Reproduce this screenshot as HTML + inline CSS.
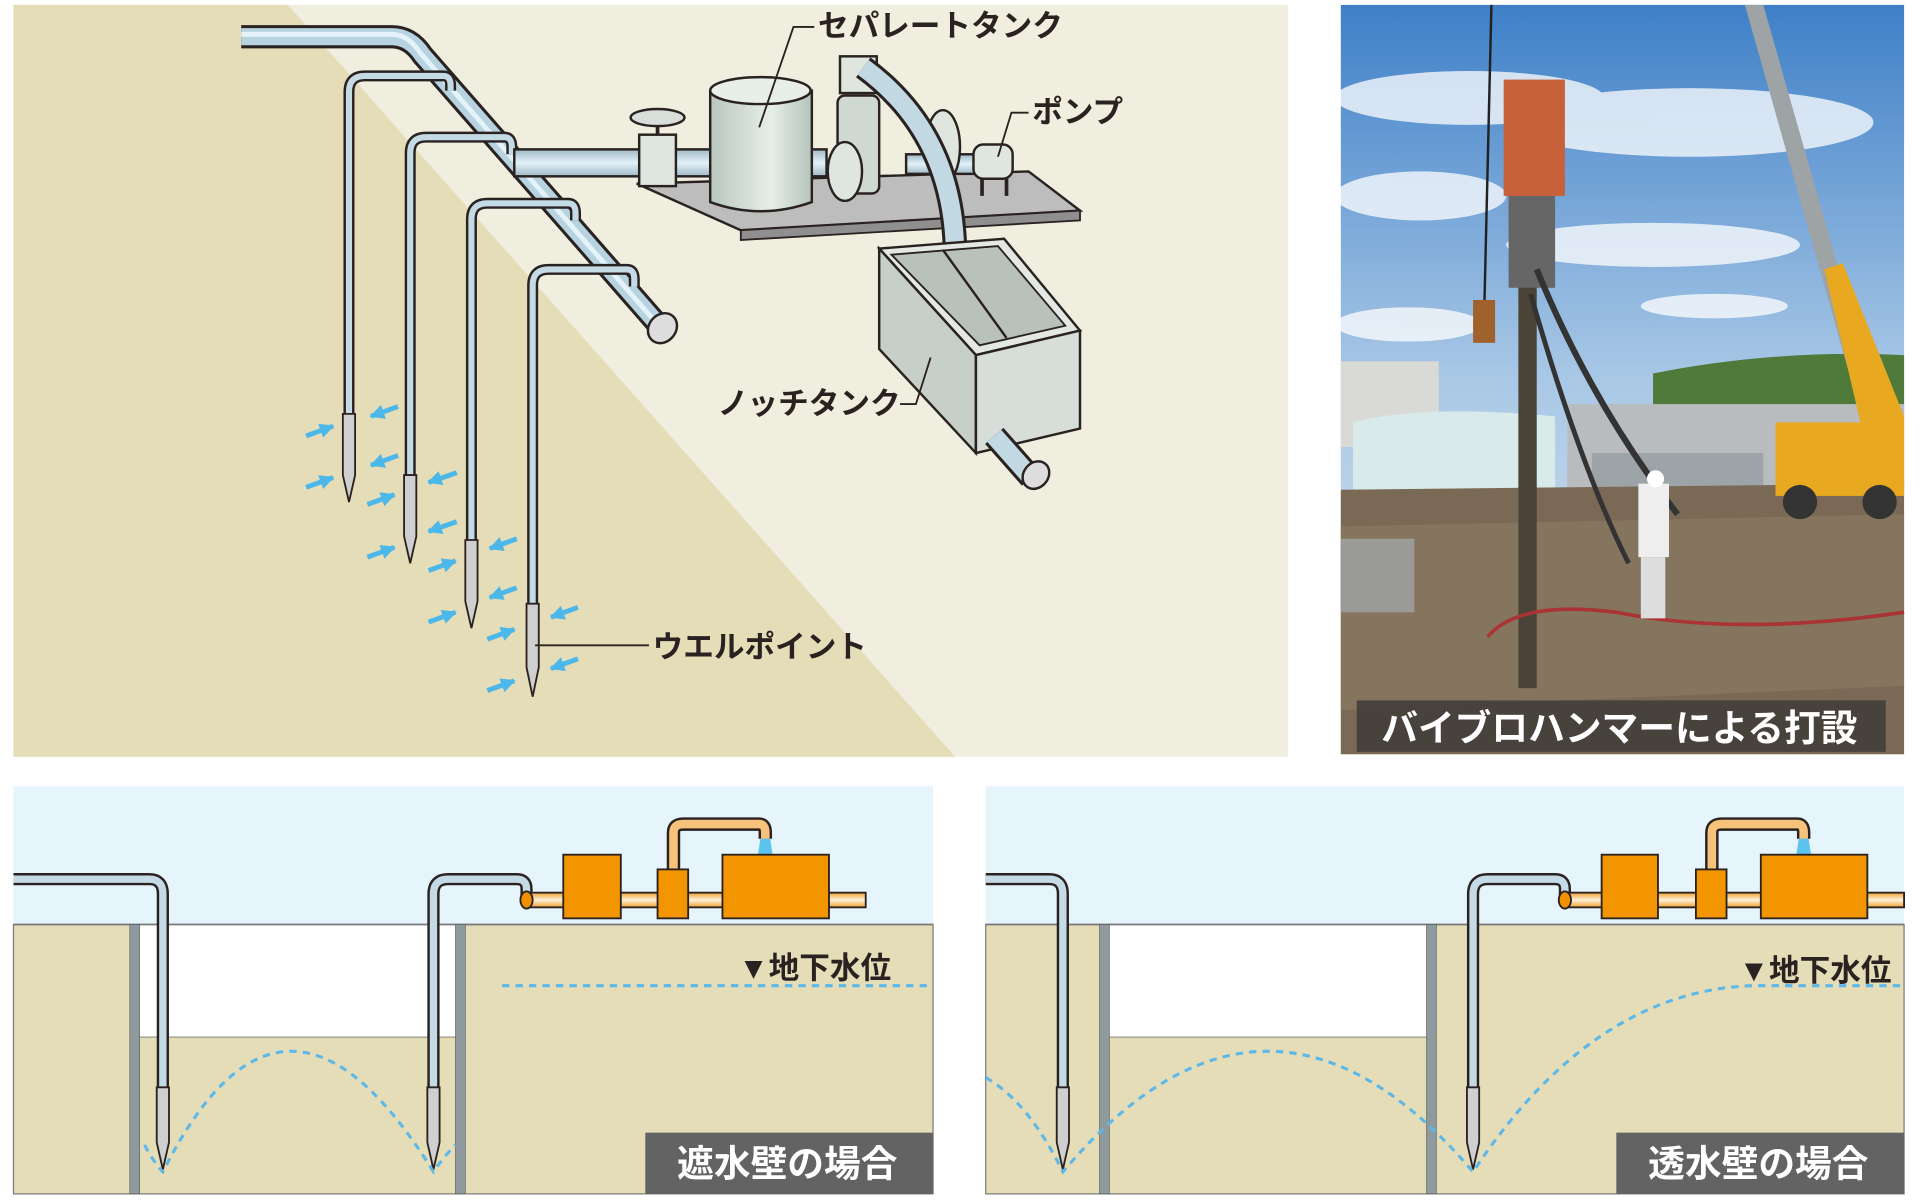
<!DOCTYPE html>
<html><head><meta charset="utf-8"><style>
html,body{margin:0;padding:0;background:#fff;}
svg{display:block;}
text{font-family:"Liberation Sans","Noto Sans CJK JP",sans-serif;}
</style></head><body>
<svg width="1920" height="1200" viewBox="0 0 1568 980" xmlns="http://www.w3.org/2000/svg">
<defs>
<linearGradient id="pv" x1="0" x2="1" y1="0" y2="0"><stop offset="0" stop-color="#9fb9c6"/><stop offset="0.5" stop-color="#e3f1f8"/><stop offset="1" stop-color="#9fb9c6"/></linearGradient>
<linearGradient id="ph" x1="0" x2="0" y1="0" y2="1"><stop offset="0" stop-color="#9fb9c6"/><stop offset="0.5" stop-color="#e3f1f8"/><stop offset="1" stop-color="#9fb9c6"/></linearGradient>
<linearGradient id="oh" x1="0" x2="0" y1="0" y2="1"><stop offset="0" stop-color="#f0a030"/><stop offset="0.5" stop-color="#fff0d8"/><stop offset="1" stop-color="#f0a030"/></linearGradient>
<linearGradient id="cyl" x1="0" x2="1"><stop offset="0" stop-color="#b9c7bf"/><stop offset="0.6" stop-color="#e6eee8"/><stop offset="1" stop-color="#b6c4bc"/></linearGradient>
<linearGradient id="sky" x1="0" x2="0" y1="0" y2="1"><stop offset="0" stop-color="#3f80c8"/><stop offset="0.5" stop-color="#a9c8e6"/><stop offset="1" stop-color="#dfe8ef"/></linearGradient>
<marker id="ar" viewBox="0 0 10 10" refX="9" refY="5" markerWidth="3" markerHeight="3" orient="auto"><path d="M0,0L10,5L0,10z" fill="#4cb8ea"/></marker>
</defs>

<rect x="11" y="4" width="1041" height="614" fill="#f0eedf"/>
<polygon points="11,4 235,4 780,618 11,618" fill="#e5dcb8"/>

<g fill="none" stroke-linecap="butt" stroke-linejoin="round">
<path d="M197,30 L320,30 Q335,30 345,45 L540,268" stroke="#2a2220" stroke-width="19"/>
<path d="M197,30 L320,30 Q335,30 345,45 L540,268" stroke="#b8d3e0" stroke-width="14"/>
<path d="M197,28 L320,28 Q333,28 343,43 L538,266" stroke="#e4f2f9" stroke-width="4"/>
</g>
<ellipse cx="541" cy="268" rx="11" ry="13" transform="rotate(40 541 268)" fill="#ddd" stroke="#2a2220" stroke-width="2"/>

<g fill="none">
<path d="M285,340 L285,75 Q285,62 298,62 L362,62 Q368,62 368,70 L368,74" stroke="#2a2220" stroke-width="9"/>
<path d="M285,340 L285,75 Q285,62 298,62 L362,62 Q368,62 368,70 L368,74" stroke="#c4dbe6" stroke-width="5"/>
<path d="M335,390 L335,125 Q335,112 348,112 L412,112 Q418,112 418,120 L418,126" stroke="#2a2220" stroke-width="9"/>
<path d="M335,390 L335,125 Q335,112 348,112 L412,112 Q418,112 418,120 L418,126" stroke="#c4dbe6" stroke-width="5"/>
<path d="M385,443 L385,179 Q385,166 398,166 L464,166 Q470,166 470,174 L470,180" stroke="#2a2220" stroke-width="9"/>
<path d="M385,443 L385,179 Q385,166 398,166 L464,166 Q470,166 470,174 L470,180" stroke="#c4dbe6" stroke-width="5"/>
<path d="M435,495 L435,233 Q435,220 448,220 L512,220 Q518,220 518,228 L518,234" stroke="#2a2220" stroke-width="9"/>
<path d="M435,495 L435,233 Q435,220 448,220 L512,220 Q518,220 518,228 L518,234" stroke="#c4dbe6" stroke-width="5"/>
</g>
<g fill="#cfcfcf" stroke="#2a2220" stroke-width="1.5">
<path d="M280,338 h10 v50 l-5,22 l-5,-22z"/>
<path d="M330,388 h10 v50 l-5,22 l-5,-22z"/>
<path d="M380,441 h10 v50 l-5,22 l-5,-22z"/>
<path d="M430,493 h10 v52 l-5,24 l-5,-24z"/>
</g>
<g stroke="#4cb8ea" stroke-width="4" marker-end="url(#ar)">
<line x1="250" y1="356" x2="272" y2="348"/><line x1="250" y1="398" x2="272" y2="390"/>
<line x1="325" y1="332" x2="303" y2="340"/><line x1="325" y1="372" x2="303" y2="380"/>
<line x1="300" y1="412" x2="322" y2="404"/><line x1="300" y1="455" x2="322" y2="447"/>
<line x1="373" y1="386" x2="350" y2="394"/><line x1="373" y1="426" x2="350" y2="434"/>
<line x1="350" y1="466" x2="372" y2="458"/><line x1="350" y1="508" x2="372" y2="500"/>
<line x1="422" y1="440" x2="400" y2="448"/><line x1="422" y1="480" x2="400" y2="488"/>
<line x1="398" y1="522" x2="420" y2="514"/><line x1="398" y1="564" x2="420" y2="556"/>
<line x1="472" y1="496" x2="450" y2="504"/><line x1="472" y1="538" x2="450" y2="546"/>
</g>
<line x1="437" y1="527" x2="530" y2="527" stroke="#2a2220" stroke-width="1.5"/>
<text x="533" y="537" font-size="25" font-weight="bold" fill="#2a2220">ウエルポイント</text>

<polygon points="520,150 840,140 882,172 605,188" fill="#bdbdbd" stroke="#2a2220" stroke-width="2"/>
<polygon points="605,188 882,172 882,180 605,196" fill="#8f8f8f" stroke="#2a2220" stroke-width="1.5"/>
<rect x="420" y="122" width="255" height="22" fill="url(#ph)" stroke="#2a2220" stroke-width="2"/>
<rect x="740" y="126" width="60" height="16" fill="url(#ph)" stroke="#2a2220" stroke-width="2"/>
<rect x="522" y="110" width="30" height="42" fill="#dfe6e0" stroke="#2a2220" stroke-width="2"/>
<line x1="537" y1="100" x2="537" y2="110" stroke="#2a2220" stroke-width="3"/>
<ellipse cx="537" cy="96" rx="22" ry="7" fill="#d8dfda" stroke="#2a2220" stroke-width="2"/>
<path d="M580,74 L580,165 Q621,180 663,165 L663,74z" fill="url(#cyl)" stroke="#2a2220" stroke-width="2"/>
<ellipse cx="621" cy="74" rx="41" ry="11" fill="#e8efe9" stroke="#2a2220" stroke-width="2"/>
<rect x="686" y="46" width="30" height="30" fill="#dfe6e0" stroke="#2a2220" stroke-width="2"/>
<rect x="684" y="78" width="34" height="80" rx="6" fill="#cfd9d2" stroke="#2a2220" stroke-width="2"/>
<ellipse cx="690" cy="140" rx="14" ry="24" fill="#dfe6e0" stroke="#2a2220" stroke-width="2"/>
<ellipse cx="770" cy="120" rx="14" ry="30" fill="#dfe6e0" stroke="#2a2220" stroke-width="2"/>
<rect x="795" y="118" width="32" height="28" rx="8" fill="#dfe6e0" stroke="#2a2220" stroke-width="2"/>
<path d="M802,146 v14 M822,146 v14" stroke="#2a2220" stroke-width="3"/>
<path d="M705,55 Q780,110 780,210" fill="none" stroke="#2a2220" stroke-width="20"/>
<path d="M705,55 Q780,110 780,210" fill="none" stroke="#c2d9e4" stroke-width="15"/>
<polygon points="718,203 820,195 882,270 797,290" fill="#e3e8e4" stroke="#2a2220" stroke-width="2"/>
<polygon points="728,208 815,201 870,266 800,282" fill="#b8c1bb" stroke="#2a2220" stroke-width="1.5"/>
<line x1="770" y1="204" x2="822" y2="276" stroke="#2a2220" stroke-width="2"/>
<polygon points="718,203 797,290 797,370 718,285" fill="#c7cfc9" stroke="#2a2220" stroke-width="2"/>
<polygon points="797,290 882,270 882,350 797,370" fill="#d7ddd8" stroke="#2a2220" stroke-width="2"/>
<path d="M812,356 L842,390" stroke="#2a2220" stroke-width="20"/>
<path d="M812,356 L842,390" stroke="#c2d9e4" stroke-width="15"/>
<ellipse cx="846" cy="388" rx="10" ry="12" transform="rotate(40 846 388)" fill="#ddd" stroke="#2a2220" stroke-width="2"/>
<path d="M620,104 L648,22 L665,22" fill="none" stroke="#2a2220" stroke-width="1.5"/>
<text x="668" y="30" font-size="25" font-weight="bold" fill="#2a2220">セパレートタンク</text>
<path d="M815,128 L826,92 L840,92" fill="none" stroke="#2a2220" stroke-width="1.5"/>
<text x="843" y="100" font-size="25" font-weight="bold" fill="#2a2220">ポンプ</text>
<path d="M735,330 L748,330 L760,292" fill="none" stroke="#2a2220" stroke-width="1.5"/>
<text x="586" y="338" font-size="25" font-weight="bold" fill="#2a2220">ノッチタンク</text>

<rect x="1095" y="4" width="460" height="612" fill="url(#sky)"/>
<g fill="#fff" opacity="0.75">
<ellipse cx="1200" cy="80" rx="110" ry="22"/><ellipse cx="1380" cy="100" rx="150" ry="28"/><ellipse cx="1160" cy="160" rx="70" ry="20"/><ellipse cx="1350" cy="200" rx="120" ry="18"/><ellipse cx="1150" cy="265" rx="60" ry="14"/><ellipse cx="1400" cy="250" rx="60" ry="10"/>
</g>
<rect x="1095" y="295" width="80" height="70" fill="#d9d9d6"/>
<path d="M1105,345 Q1160,330 1270,340 L1270,400 L1105,400z" fill="#d8ebea"/>
<path d="M1350,305 Q1450,285 1555,290 L1555,340 L1350,340z" fill="#4f7a3a"/>
<rect x="1280" y="330" width="275" height="70" fill="#b9bcbf"/>
<rect x="1300" y="370" width="140" height="35" fill="#9da4a8"/>
<path d="M1095,400 L1555,395 L1555,616 L1095,616z" fill="#7a6a55"/>
<path d="M1095,430 L1555,420 L1555,560 L1095,580z" fill="#8b7a62" opacity="0.7"/>
<polygon points="1425,4 1440,4 1530,320 1515,322" fill="#9ea3a5"/>
<polygon points="1490,220 1505,215 1555,340 1555,400 1530,390" fill="#e8a820"/>
<rect x="1450" y="345" width="105" height="60" fill="#e8a820"/>
<circle cx="1470" cy="410" r="14" fill="#333"/><circle cx="1535" cy="410" r="14" fill="#333"/>
<rect x="1240" y="200" width="15" height="362" fill="#4a4438"/>
<rect x="1232" y="155" width="38" height="80" fill="#666" />
<rect x="1228" y="65" width="50" height="95" fill="#c8603a"/>
<line x1="1218" y1="4" x2="1212" y2="260" stroke="#222" stroke-width="2"/>
<rect x="1203" y="245" width="18" height="35" fill="#a0622d"/>
<path d="M1255,220 Q1300,330 1370,420" stroke="#333" stroke-width="5" fill="none"/>
<path d="M1250,240 Q1290,380 1330,460" stroke="#333" stroke-width="4" fill="none"/>
<path d="M1215,520 Q1240,490 1320,500 Q1420,520 1555,500" stroke="#a33" stroke-width="3" fill="none"/>
<rect x="1338" y="395" width="25" height="60" fill="#eee"/>
<rect x="1340" y="455" width="20" height="50" fill="#ddd"/>
<circle cx="1352" cy="391" r="7" fill="#fff"/>
<rect x="1095" y="440" width="60" height="60" fill="#9a9a96"/>
<rect x="1108" y="572" width="432" height="42" fill="#3e3b38" opacity="0.85"/>
<text x="1128" y="605" font-size="30" font-weight="bold" fill="#fff">バイブロハンマーによる打設</text>

<rect x="11" y="642" width="751" height="113" fill="#e6f4fc"/>
<rect x="11" y="755" width="751" height="220" fill="#e5dcb8" stroke="#7a7a7a" stroke-width="1"/>
<rect x="114" y="755" width="258" height="92" fill="#fff"/>
<line x1="114" y1="847" x2="372" y2="847" stroke="#9a9a8a" stroke-width="1"/>
<line x1="11" y1="755" x2="762" y2="755" stroke="#7a7a7a" stroke-width="1.5"/>
<rect x="106" y="755" width="8" height="220" fill="#8e9a9e" stroke="#555" stroke-width="0.5"/>
<rect x="372" y="755" width="8" height="220" fill="#8e9a9e" stroke="#555" stroke-width="0.5"/>
<g fill="none">
<path d="M11,718 L122,718 Q133,718 133,730 L133,890" stroke="#2a2220" stroke-width="10"/>
<path d="M11,718 L122,718 Q133,718 133,730 L133,890" stroke="#c4dbe6" stroke-width="6"/>
<path d="M354,890 L354,730 Q354,718 366,718 L422,718 Q430,718 430,726 L430,735" stroke="#2a2220" stroke-width="10"/>
<path d="M354,890 L354,730 Q354,718 366,718 L422,718 Q430,718 430,726 L430,735" stroke="#c4dbe6" stroke-width="6"/>
</g>
<g fill="#cfcfcf" stroke="#2a2220" stroke-width="1.5">
<path d="M128,888 h10 v45 l-5,22 l-5,-22z"/>
<path d="M349,888 h10 v45 l-5,22 l-5,-22z"/>
</g>
<rect x="430" y="729" width="277" height="12" fill="url(#oh)" stroke="#2a2220" stroke-width="1.5"/>
<ellipse cx="430" cy="735" rx="5" ry="7" fill="#f09000" stroke="#2a2220" stroke-width="1.5"/>
<path d="M550,712 L550,680 Q550,673 558,673 L620,673 Q625,673 625,680 L625,685" fill="none" stroke="#2a2220" stroke-width="11"/>
<path d="M550,712 L550,680 Q550,673 558,673 L620,673 Q625,673 625,680 L625,685" fill="none" stroke="#f7c27a" stroke-width="7"/>
<polygon points="621,685 629,685 631,698 619,698" fill="#5cc3ef"/>
<g fill="#f29500" stroke="#2a2220" stroke-width="1.5">
<rect x="460" y="698" width="47" height="52"/><rect x="537" y="710" width="25" height="40"/><rect x="590" y="698" width="87" height="52"/>
</g>
<path d="M410,805 L762,805" stroke="#5cb8e8" stroke-width="2.5" stroke-dasharray="6,5"/>
<path d="M118,935 Q126,950 133,957 Q232,760 354,957 Q362,945 372,935" fill="none" stroke="#5cb8e8" stroke-width="2.5" stroke-dasharray="6,5"/>
<text x="603" y="799" font-size="25" font-weight="bold" fill="#2a2220">▼地下水位</text>
<rect x="527" y="925" width="235" height="50" fill="#636363"/>
<text x="553" y="961" font-size="30" font-weight="bold" fill="#fff">遮水壁の場合</text>

<rect x="805" y="642" width="750" height="113" fill="#e6f4fc"/>
<rect x="805" y="755" width="750" height="220" fill="#e5dcb8" stroke="#7a7a7a" stroke-width="1"/>
<rect x="906" y="755" width="259" height="92" fill="#fff"/>
<line x1="906" y1="847" x2="1165" y2="847" stroke="#9a9a8a" stroke-width="1"/>
<line x1="805" y1="755" x2="1555" y2="755" stroke="#7a7a7a" stroke-width="1.5"/>
<rect x="898" y="755" width="8" height="220" fill="#8e9a9e" stroke="#555" stroke-width="0.5"/>
<rect x="1165" y="755" width="8" height="220" fill="#8e9a9e" stroke="#555" stroke-width="0.5"/>
<g fill="none">
<path d="M805,718 L857,718 Q868,718 868,730 L868,890" stroke="#2a2220" stroke-width="10"/>
<path d="M805,718 L857,718 Q868,718 868,730 L868,890" stroke="#c4dbe6" stroke-width="6"/>
<path d="M1203,890 L1203,730 Q1203,718 1215,718 L1270,718 Q1278,718 1278,726 L1278,735" stroke="#2a2220" stroke-width="10"/>
<path d="M1203,890 L1203,730 Q1203,718 1215,718 L1270,718 Q1278,718 1278,726 L1278,735" stroke="#c4dbe6" stroke-width="6"/>
</g>
<g fill="#cfcfcf" stroke="#2a2220" stroke-width="1.5">
<path d="M863,888 h10 v45 l-5,22 l-5,-22z"/>
<path d="M1198,888 h10 v45 l-5,22 l-5,-22z"/>
</g>
<rect x="1278" y="729" width="277" height="12" fill="url(#oh)" stroke="#2a2220" stroke-width="1.5"/>
<ellipse cx="1278" cy="735" rx="5" ry="7" fill="#f09000" stroke="#2a2220" stroke-width="1.5"/>
<path d="M1398,712 L1398,680 Q1398,673 1406,673 L1468,673 Q1473,673 1473,680 L1473,685" fill="none" stroke="#2a2220" stroke-width="11"/>
<path d="M1398,712 L1398,680 Q1398,673 1406,673 L1468,673 Q1473,673 1473,680 L1473,685" fill="none" stroke="#f7c27a" stroke-width="7"/>
<polygon points="1469,685 1477,685 1479,698 1467,698" fill="#5cc3ef"/>
<g fill="#f29500" stroke="#2a2220" stroke-width="1.5">
<rect x="1308" y="698" width="46" height="52"/><rect x="1385" y="710" width="25" height="40"/><rect x="1438" y="698" width="87" height="52"/>
</g>
<path d="M805,880 Q840,900 868,957 Q1035,760 1203,957 Q1300,810 1430,805 L1555,805" fill="none" stroke="#5cb8e8" stroke-width="2.5" stroke-dasharray="6,5"/>
<text x="1420" y="801" font-size="25" font-weight="bold" fill="#2a2220">▼地下水位</text>
<rect x="1320" y="925" width="235" height="50" fill="#636363"/>
<text x="1346" y="961" font-size="30" font-weight="bold" fill="#fff">透水壁の場合</text>
</svg>
</body></html>
